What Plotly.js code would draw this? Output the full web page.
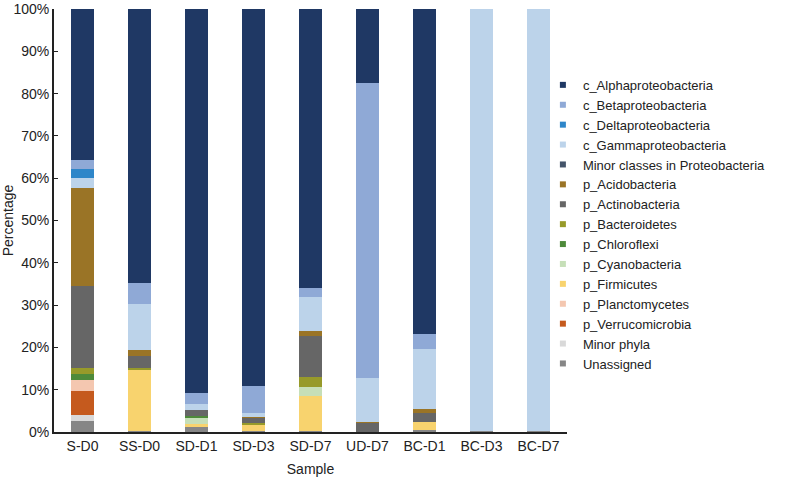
<!DOCTYPE html>
<html>
<head>
<meta charset="utf-8">
<script src="https://cdn.plot.ly/plotly-3.0.1.min.js"></script>
<style>html,body{margin:0;padding:0;background:#fff;}#chart{width:800px;height:483px;}</style>
</head>
<body>
<div id="chart"></div>
<script>
const samples = ["S-D0","SS-D0","SD-D1","SD-D3","SD-D7","UD-D7","BC-D1","BC-D3","BC-D7"];
const yTickVals = [0,10,20,30,40,50,60,70,80,90,100];
const yTickText = ["0%","10%","20%","30%","40%","50%","60%","70%","80%","90%","100%"];

// Percent per sample, stacked bottom (Unassigned) to top (Alphaproteobacteria)
const unassigned      = [2.5, 0.3, 1.2, 0.2, 0.3, 0,    0.5, 0.3, 0.3];
const minorPhyla      = [1.5, 0,   0,   0,   0,   0,    0,   0,   0];
const verrucomicrobia = [5.7, 0,   0,   0,   0,   0,    0,   0,   0];
const planctomycetes  = [2.6, 0,   0,   0,   0,   0,    0,   0,   0];
const firmicutes      = [0,   14.3,0.6, 1.5, 8.2, 0,    1.8, 0,   0];
const cyanobacteria   = [0,   0,   1.4, 0,   2.1, 0,    0,   0,   0];
const chloroflexi     = [1.4, 0,   0.7, 0,   0,   0,    0,   0,   0];
const bacteroidetes   = [1.4, 0.5, 0,   0.5, 2.5, 0,    0,   0,   0];
const actinobacteria  = [19.4,2.8, 1.2, 1.1, 9.5, 2.2,  2.3, 0,   0];
const acidobacteria   = [23.3,1.4, 0.2, 0.2, 1.2, 0.2,  0.8, 0,   0];
const minorProteo     = [0,   0,   0,   0,   0,   0,    0,   0,   0];
const gammaproteo     = [2.3, 10.9,1.3, 1.0, 8.2, 10.3, 14.3,99.7,99.7];
const deltaproteo     = [2.1, 0,   0,   0,   0,   0,    0,   0,   0];
const betaproteo      = [2.2, 5.1, 2.7, 6.4, 2.1, 69.8, 3.5, 0,   0];
const alphaproteo     = [35.6,64.7,90.7,89.1,65.9,17.5, 76.8,0,   0];

const seriesNames = ["Unassigned","Minor phyla","p_Verrucomicrobia","p_Planctomycetes","p_Firmicutes",
  "p_Cyanobacteria","p_Chloroflexi","p_Bacteroidetes","p_Actinobacteria","p_Acidobacteria",
  "Minor classes in Proteobacteria","c_Gammaproteobacteria","c_Deltaproteobacteria",
  "c_Betaproteobacteria","c_Alphaproteobacteria"];
const seriesValues = [unassigned,minorPhyla,verrucomicrobia,planctomycetes,firmicutes,
  cyanobacteria,chloroflexi,bacteroidetes,actinobacteria,acidobacteria,
  minorProteo,gammaproteo,deltaproteo,betaproteo,alphaproteo];
const seriesColors = ["#868686","#d9d9d9","#c55a1e","#f4c7b0","#f8d36e",
  "#c6dfb8","#4e8a3a","#979a2a","#666666","#9a7426",
  "#44546a","#bcd3ea","#2e86c9","#8fa9d6","#1f3864"];

const traces = [];
seriesNames.forEach((n,i)=>{
  traces.push({type:"bar", x:samples, y:seriesValues[i], name:n, legendgroup:n, showlegend:false,
    marker:{color:seriesColors[i], line:{width:0}}, hoverinfo:"x+y+name"});
});
seriesNames.forEach((n,i)=>{
  traces.push({type:"scatter", mode:"markers", x:[null], y:[null], name:n, legendgroup:n,
    marker:{symbol:"square", size:6, color:seriesColors[i]}, showlegend:true, hoverinfo:"skip"});
});

const layout = {
  width:800, height:483,
  margin:{l:54, r:233, t:9, b:51},
  barmode:"stack", bargap:0.6,
  paper_bgcolor:"#fff", plot_bgcolor:"#fff",
  font:{family:"Liberation Sans, Arial, sans-serif", size:14, color:"#222"},
  xaxis:{type:"category", showline:true, linecolor:"#222", linewidth:2, ticks:"", showgrid:false,
    zeroline:false, tickfont:{size:14}, title:{text:"Sample", font:{size:14}, standoff:11}, fixedrange:true},
  yaxis:{range:[0,100], showline:true, linecolor:"#222", linewidth:2, ticks:"inside", ticklen:4,
    tickcolor:"#222", tickmode:"array", tickvals:yTickVals, ticktext:yTickText,
    ticklabeloverflow:"allow", showgrid:false, zeroline:false, tickfont:{size:14},
    title:{text:"Percentage", font:{size:14}, standoff:2}, fixedrange:true},
  legend:{x:0.953, xanchor:"left", y:0.856, yanchor:"top", traceorder:"reversed",
    font:{size:13}, itemwidth:30, tracegroupgap:0, bgcolor:"rgba(0,0,0,0)"},
  showlegend:true
};
Plotly.newPlot("chart", traces, layout, {displayModeBar:false, staticPlot:true});
</script>
</body>
</html>
